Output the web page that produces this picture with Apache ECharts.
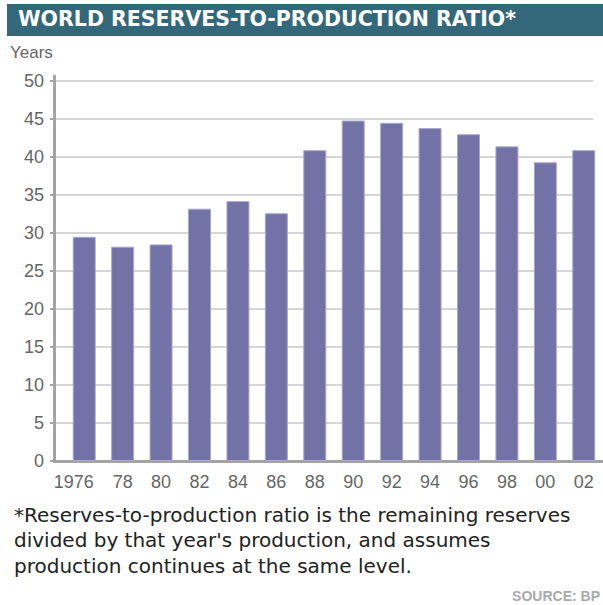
<!DOCTYPE html>
<html>
<head>
<meta charset="utf-8">
<script src="https://cdn.jsdelivr.net/npm/echarts@6/dist/echarts.min.js"></script>
<style>
  html, body { margin: 0; padding: 0; background: #ffffff; }
  #chart { width: 603px; height: 605px; }
</style>
</head>
<body>
<div id="chart"></div>
<script>
// Reserves-to-production ratio (years), BP data
const years = ['1976', '78', '80', '82', '84', '86', '88', '90', '92', '94', '96', '98', '00', '02'];
const ratio = [29.5, 28.2, 28.5, 33.2, 34.2, 32.6, 40.9, 44.8, 44.5, 43.8, 43.0, 41.4, 39.3, 40.9];
const yTicks = { min: 0, max: 50, step: 5 };

const titleText = 'WORLD RESERVES-TO-PRODUCTION RATIO*';
const unitText = 'Years';
const noteLines = [
  '*Reserves-to-production ratio is the remaining reserves',
  "divided by that year's production, and assumes",
  'production continues at the same level.'
];
const sourceText = 'SOURCE: BP';

const labelFont = '"Liberation Sans", Arial, sans-serif';
const noteFont = '"DejaVu Sans", Verdana, sans-serif';

const chart = echarts.init(document.getElementById('chart'), null, { renderer: 'svg' });

chart.setOption({
  animation: false,
  backgroundColor: '#ffffff',
  grid: [
    // value labels and horizontal rules
    { left: 54, right: 10, top: 81, height: 380 },
    // bars
    { left: 65, width: 545, top: 81, height: 380 },
    // axis lines
    { left: 54, right: 0, top: 76, height: 385 }
  ],
  xAxis: [
    { gridIndex: 0, type: 'value', show: false, min: 0, max: 1 },
    {
      gridIndex: 1, type: 'category', data: years, boundaryGap: true,
      axisLine: { show: false }, axisTick: { show: false },
      axisLabel: {
        interval: 0, color: '#666', fontFamily: labelFont, fontSize: 18, margin: 12,
        // the full first year sits with its last two digits under the bar
        formatter: (v, i) => (i === 0 ? v + '{pad|}' : v),
        rich: { pad: { width: 21 } }
      }
    },
    {
      gridIndex: 2, type: 'value', min: 0, max: 1,
      axisLine: { show: true, lineStyle: { color: '#a3a3a3', width: 3 } },
      axisTick: { show: false }, axisLabel: { show: false }, splitLine: { show: false }
    }
  ],
  yAxis: [
    {
      gridIndex: 0, type: 'value', min: yTicks.min, max: yTicks.max, interval: yTicks.step,
      axisLine: { show: false },
      axisTick: { show: true, length: 4, lineStyle: { color: '#a3a3a3', width: 2 } },
      axisLabel: { color: '#666', fontFamily: labelFont, fontSize: 18, margin: 10 },
      splitLine: { show: true, lineStyle: { color: '#d6d6d6', width: 2 } }
    },
    { gridIndex: 1, type: 'value', min: yTicks.min, max: yTicks.max, show: false },
    {
      gridIndex: 2, type: 'value', min: 0, max: 1,
      axisLine: { show: true, lineStyle: { color: '#a3a3a3', width: 3 } },
      axisTick: { show: false }, axisLabel: { show: false }, splitLine: { show: false }
    }
  ],
  series: [
    {
      type: 'bar', xAxisIndex: 1, yAxisIndex: 1, data: ratio, barWidth: 23,
      itemStyle: { color: '#7372a7', borderColor: '#a9a8d2', borderWidth: 1 },
      z: 3
    }
  ],
  graphic: [
    { type: 'rect', left: 7, top: 4, shape: { width: 596, height: 32 }, style: { fill: '#33677a' }, z: 10 },
    {
      type: 'text', left: 18, top: 8, z: 11,
      style: { text: titleText, fill: '#ffffff', font: 'bold 20.5px ' + noteFont }
    },
    {
      type: 'text', left: 10, top: 44, z: 11,
      style: { text: unitText, fill: '#666', font: '17px ' + labelFont }
    },
    {
      type: 'text', left: 14, top: 502, z: 11,
      style: { text: noteLines.join('\n'), fill: '#222', font: '20px ' + noteFont, lineHeight: 25.5 }
    },
    {
      type: 'text', right: 3, top: 589, z: 11,
      style: { text: sourceText, fill: '#aaaaaa', font: 'bold 14px ' + labelFont }
    }
  ]
});
</script>
</body>
</html>
